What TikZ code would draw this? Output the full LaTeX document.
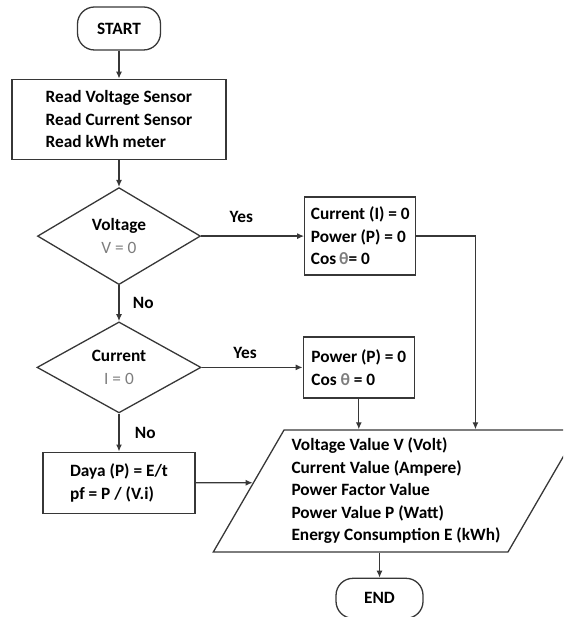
\documentclass[tikz,border=0pt]{standalone}
\usepackage{fontspec}
\setmainfont{Carlito}
\usetikzlibrary{arrows.meta,positioning,shapes.geometric}
\definecolor{line}{RGB}{55,55,55}
\definecolor{note}{RGB}{125,125,125}

\begin{document}
\begin{tikzpicture}[x=1pt, y=-1pt, font=\fontsize{17.3}{22.5}\selectfont\bfseries, node distance=27pt,
term/.style={draw=line, line width=1.3pt, rounded corners=17pt, minimum width=83pt, minimum height=43pt},
box/.style={draw=line, line width=1.3pt, align=left, inner sep=0pt},
cond/.style={draw=line, line width=1.3pt, diamond, aspect=1.7, align=center, inner sep=0pt},
io/.style={draw=line, line width=1.3pt, trapezium, trapezium left angle=58.8, trapezium right angle=121.2, trapezium stretches=true, align=left},
arrow/.style={-{Latex[length=7pt,width=6pt]}, line width=1.3pt, draw=line}]
\useasboundingbox (0,0) rectangle (563,617);
\clip (0,0) rectangle (563,617);
\node[term] (start) at (119,28.5) {START};
\node[box, minimum width=214pt, minimum height=80pt, below=28pt of start] (read) {Read Voltage Sensor\\Read Current Sensor\\Read kWh meter};
\node[cond, minimum width=163pt, minimum height=97pt, below=27pt of read] (d1) {Voltage\\{\color{note}\mdseries V = 0}};
\node[cond, minimum width=164pt, minimum height=91pt, below=36pt of d1] (d2) {Current\\{\color{note}\mdseries I = 0}};
\node[box, minimum width=111pt, minimum height=78pt, right=103pt of d1] (zero1) {Current (I) = 0\\Power (P) = 0\\Cos\,{\color{note}θ}= 0};
\node[box, minimum width=111pt, minimum height=61pt, right=101pt of d2] (zero2) {Power (P) = 0\\Cos {\color{note}θ} = 0};
\node[box, minimum width=152pt, minimum height=61pt, below=38pt of d2] (calc) {Daya (P) = E/t\\pf = P / (V.i)};
\node[io, minimum width=366pt, minimum height=122pt] (out) at (396,491) {Voltage Value V (Volt)\\Current Value (Ampere)\\Power Factor Value\\Power Value P (Watt)\\Energy Consumption E (kWh)};
\node[term, minimum width=87pt, minimum height=40pt, below=25pt of out, xshift=-16.5pt] (end) {END};
\coordinate[right=59pt of zero1] (turn);
\draw[arrow] (start) -- (read);
\draw[arrow] (read) -- (d1);
\draw[arrow] (d1) -- node[above=9pt, pos=0.39] {Yes} (zero1);
\draw[arrow] (d1) -- node[right=10pt] {No} (d2);
\draw[arrow] (d2) -- node[above=5pt, pos=0.43] {Yes} (zero2);
\draw[arrow] (d2) -- node[right=12pt] {No} (calc);
\draw[arrow] (zero1) -- (turn) -- (turn |- out.north);
\draw[arrow] (zero2) -- (zero2 |- out.north);
\draw[arrow] (calc) -- (intersection of calc.east--calc.west and out.bottom left corner--out.top left corner);
\draw[arrow] (end |- out.south) -- (end);
\end{tikzpicture}
\end{document}
